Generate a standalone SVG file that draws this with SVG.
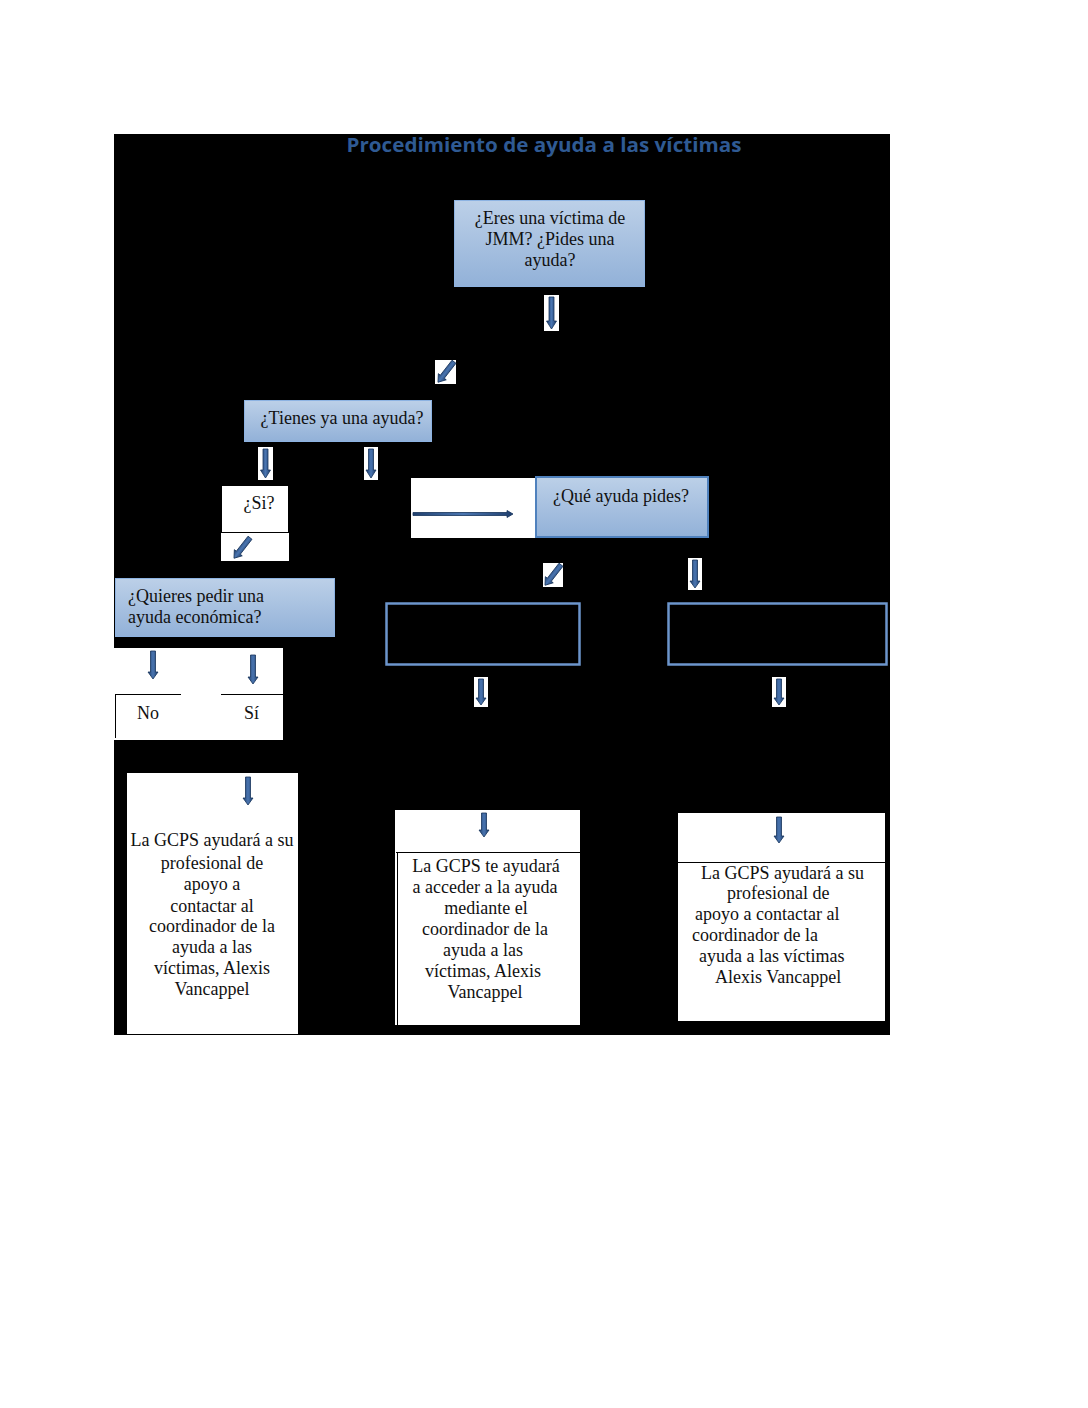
<svg xmlns="http://www.w3.org/2000/svg" width="1088" height="1408" viewBox="0 0 1088 1408">
<defs>
<linearGradient id="boxg" x1="0" y1="0" x2="0" y2="1">
<stop offset="0" stop-color="#BCD0E8"/>
<stop offset="1" stop-color="#92B1D8"/>
</linearGradient>
<linearGradient id="arrg" x1="0" y1="0" x2="1" y2="0">
<stop offset="0" stop-color="#1F3F6E"/>
<stop offset="0.5" stop-color="#4A75B0"/>
<stop offset="1" stop-color="#1F3F6E"/>
</linearGradient>
</defs>
<style>
.bg{fill:#000}
.wb{fill:#fff}
.blue{fill:url(#boxg);stroke:#8DB3E2;stroke-width:1}
.out{fill:#000;stroke:#6C95CC;stroke-width:2.5}
.t{font-family:"Liberation Serif","Times New Roman",serif;font-size:18px;fill:#111}
.c{text-anchor:middle}
.title{font-family:"Open Sans","Liberation Sans",sans-serif;font-weight:bold;font-size:20px;fill:#2F5A93;text-anchor:middle}
.arr{fill:url(#arrg);stroke:#17335A;stroke-width:0.8}
.ln{stroke:#000;stroke-width:1;fill:none}
</style>
<rect class="bg" x="114" y="134" width="776" height="901"/>
<text class="title" x="544" y="152" textLength="395" lengthAdjust="spacingAndGlyphs">Procedimiento de ayuda a las víctimas</text>

<g id="n-victima">
<rect class="blue" x="454.5" y="200.5" width="190" height="86"/>
<text class="t c" x="550" y="224">¿Eres una víctima de</text>
<text class="t c" x="550" y="245">JMM? ¿Pides una</text>
<text class="t c" x="550" y="266">ayuda?</text>
</g>

<g id="n-tienes">
<rect class="blue" x="244.5" y="400.5" width="187" height="41"/>
<text class="t c" x="342" y="424">¿Tienes ya una ayuda?</text>
</g>

<g id="n-si">
<rect class="wb" x="222" y="486" width="66" height="46"/>
<text class="t c" x="259" y="509">¿Si?</text>
<rect class="wb" x="221" y="533" width="68" height="28"/>
</g>

<g id="n-quieres">
<rect class="blue" x="115.5" y="578.5" width="219" height="58"/>
<text class="t" x="128" y="602">¿Quieres pedir una</text>
<text class="t" x="128" y="623">ayuda económica?</text>
</g>

<g id="n-white-arrow">
<rect class="wb" x="411" y="478" width="125" height="60"/>
</g>

<g id="n-que">
<rect x="536" y="477" width="172" height="60" fill="url(#boxg)" stroke="#4F81BD" stroke-width="2"/>
<text class="t c" x="621" y="502">¿Qué ayuda pides?</text>
</g>

<g id="n-empty1">
<rect class="out" x="386.5" y="603.5" width="193" height="61"/>
</g>
<g id="n-empty2">
<rect class="out" x="668.5" y="603.5" width="218" height="61"/>
</g>

<g id="n-nosi">
<rect class="wb" x="114" y="648" width="169" height="92"/>
<path class="ln" d="M115,694.5 H181 M115.5,694 V738 M221,694.5 H283"/>
<text class="t" x="137" y="719">No</text>
<text class="t" x="244" y="719">Sí</text>
</g>

<g id="n-res1">
<rect class="wb" x="127" y="773" width="171" height="261"/>
<text class="t c" x="212" y="846">La GCPS ayudará a su</text>
<text class="t c" x="212" y="869">profesional de</text>
<text class="t c" x="212" y="890">apoyo a</text>
<text class="t c" x="212" y="912">contactar al</text>
<text class="t c" x="212" y="932">coordinador de la</text>
<text class="t c" x="212" y="953">ayuda a las</text>
<text class="t c" x="212" y="974">víctimas, Alexis</text>
<text class="t c" x="212" y="995">Vancappel</text>
</g>

<g id="n-res2">
<rect class="wb" x="395" y="810" width="185" height="215"/>
<path class="ln" d="M396,852.5 H580 M397.5,852 V1025"/>
<text class="t c" x="486" y="872">La GCPS te ayudará</text>
<text class="t c" x="485" y="893">a acceder a la ayuda</text>
<text class="t c" x="486" y="914">mediante el</text>
<text class="t c" x="485" y="935">coordinador de la</text>
<text class="t c" x="483" y="956">ayuda a las</text>
<text class="t c" x="483" y="977">víctimas, Alexis</text>
<text class="t c" x="485" y="998">Vancappel</text>
</g>

<g id="n-res3">
<rect class="wb" x="678" y="813" width="207" height="208"/>
<path class="ln" d="M678,862.5 H885"/>
<text class="t" x="701" y="879">La GCPS ayudará a su</text>
<text class="t" x="727" y="899">profesional de</text>
<text class="t" x="695" y="920">apoyo a contactar al</text>
<text class="t" x="692" y="941">coordinador de la</text>
<text class="t" x="699" y="962">ayuda a las víctimas</text>
<text class="t" x="715" y="983">Alexis Vancappel</text>
</g>

<g id="connectors">
<rect class="wb" x="544" y="295" width="15" height="36"/>
<path class="arr" transform="translate(551.5,297)" d="M-2.5,0 H2.5 V24 H5 L0,32 L-5,24 H-2.5 Z"/>

<rect class="wb" x="435" y="360" width="21" height="24"/>
<path class="arr" transform="translate(446,372) rotate(38)" d="M-2.5,-13 H2.5 V6 H5 L0,13 L-5,6 H-2.5 Z"/>

<rect class="wb" x="258" y="447" width="15" height="33"/>
<path class="arr" transform="translate(265.5,449)" d="M-2.5,0 H2.5 V21 H5 L0,29 L-5,21 H-2.5 Z"/>

<rect class="wb" x="364" y="447" width="14" height="33"/>
<path class="arr" transform="translate(371,449)" d="M-2.5,0 H2.5 V21 H5 L0,29 L-5,21 H-2.5 Z"/>

<path class="arr" transform="translate(242,548) rotate(38)" d="M-2.5,-13 H2.5 V6 H5 L0,13 L-5,6 H-2.5 Z"/>

<path class="arr" d="M413,512.5 H507 V510.5 L513,514 L507,517.5 V515.5 H413 Z"/>

<rect class="wb" x="543" y="563" width="20" height="24"/>
<path class="arr" transform="translate(553,575) rotate(38)" d="M-2.5,-13 H2.5 V6 H5 L0,13 L-5,6 H-2.5 Z"/>

<rect class="wb" x="688" y="558" width="14" height="32"/>
<path class="arr" transform="translate(695,560)" d="M-2.5,0 H2.5 V21 H5 L0,28 L-5,21 H-2.5 Z"/>

<rect class="wb" x="474" y="677" width="14" height="30"/>
<path class="arr" transform="translate(481,679)" d="M-2.5,0 H2.5 V19 H5 L0,26 L-5,19 H-2.5 Z"/>

<rect class="wb" x="772" y="677" width="14" height="30"/>
<path class="arr" transform="translate(779,679)" d="M-2.5,0 H2.5 V19 H5 L0,26 L-5,19 H-2.5 Z"/>

<path class="arr" transform="translate(153,651)" d="M-2.5,0 H2.5 V21 H5 L0,28 L-5,21 H-2.5 Z"/>
<path class="arr" transform="translate(253,655)" d="M-2.5,0 H2.5 V22 H5 L0,29 L-5,22 H-2.5 Z"/>
<path class="arr" transform="translate(248,777)" d="M-2.5,0 H2.5 V21 H5 L0,28 L-5,21 H-2.5 Z"/>
<path class="arr" transform="translate(484,813)" d="M-2.5,0 H2.5 V17 H5 L0,24 L-5,17 H-2.5 Z"/>
<path class="arr" transform="translate(779,817)" d="M-2.5,0 H2.5 V19 H5 L0,26 L-5,19 H-2.5 Z"/>
</g>
</svg>
